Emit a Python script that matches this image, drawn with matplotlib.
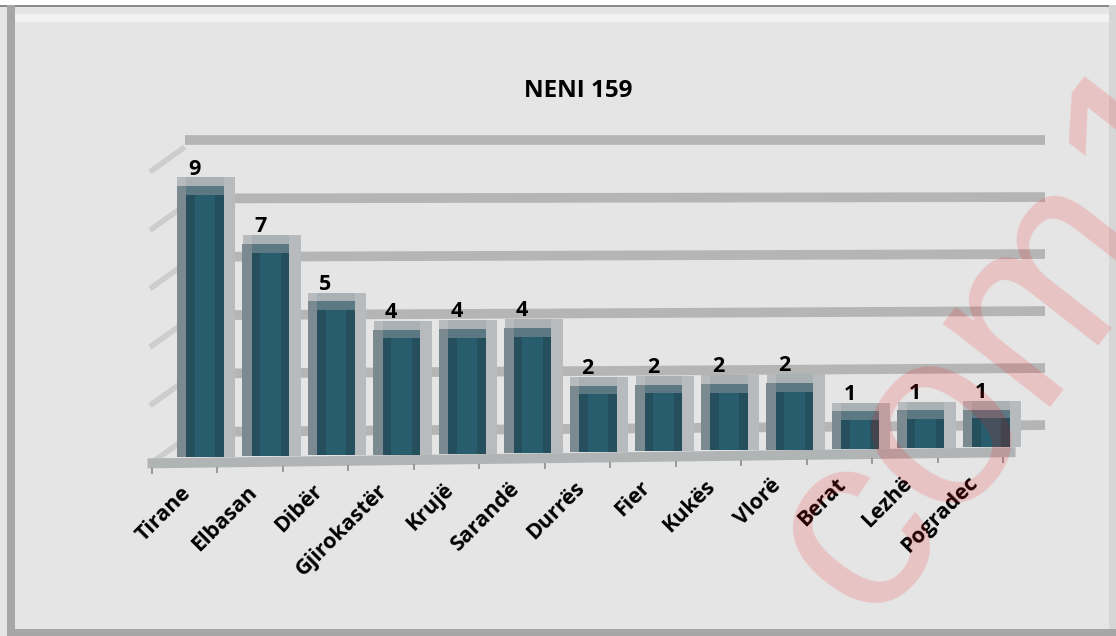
import numpy as np
import matplotlib
matplotlib.use("Agg")
import matplotlib.pyplot as plt
from matplotlib.patches import Rectangle

# ---- data ----
categories = ["Tirane", "Elbasan", "Dibër", "Gjirokastër", "Krujë", "Sarandë",
              "Durrës", "Fier", "Kukës", "Vlorë", "Berat", "Lezhë", "Pogradec"]
values = [9, 7, 5, 4, 4, 4, 2, 2, 2, 2, 1, 1, 1]
title = "NENI 159"
grid_levels = [0, 2, 4, 6, 8, 10]

W, H = 1116, 636
fig = plt.figure(figsize=(W / 100, H / 100), dpi=100)
fig.patch.set_facecolor("#e5e5e5")

# outer frame
def px_rect(x0, y0, x1, y1, color, z=0):
    fig.add_artist(Rectangle((x0 / W, 1 - y1 / H), (x1 - x0) / W, (y1 - y0) / H,
                             transform=fig.transFigure, facecolor=color,
                             edgecolor="none", zorder=z))

px_rect(0, 0, W, 5, "#ffffff")
px_rect(0, 5, W, 7, "#8c8c8c")
px_rect(15, 14, W - 7, 22, "#f2f2f2")
px_rect(7, 5, 15, 636, "#a6a6a6")
px_rect(7, 629, W, 636, "#a6a6a6")
px_rect(W - 7, 5, W, 629, "#d6d6d6")

# axes geometry in pixels
ax_l, ax_r = 147, 1050
ax_t, ax_b = 130, 480
px_per_x = 65.5
x0_px = 205
px_per_y = 29.2
y0_px = 449

ax = fig.add_axes([ax_l / W, 1 - ax_b / H, (ax_r - ax_l) / W, (ax_b - ax_t) / H])
ax.set_facecolor("none")
ax.set_xlim((ax_l - x0_px) / px_per_x, (ax_r - x0_px) / px_per_x)
ax.set_ylim(-(ax_b - y0_px) / px_per_y, (y0_px - ax_t) / px_per_y)
for s in ax.spines.values():
    s.set_visible(False)
ax.set_xticks([])
ax.set_yticks([])

x = np.arange(len(categories))
vals = np.array(values, dtype=float)
slant = 0.029          # perspective rise per category (data units)
lift = slant * x

# back-wall gridlines (shifted for 3-D perspective)
gx0 = (185 - x0_px) / px_per_x
gx1 = (1045 - x0_px) / px_per_x
off = 0.58
for v in grid_levels:
    rise = 0.24 * (1 - v / 10)
    ax.plot([gx0, gx1], [v + off, v + off + rise], color="#b5b5b5", lw=7,
            solid_capstyle="butt", zorder=1)
    ax.plot([-0.84, -0.31], [v - 0.51, v + 0.34], color="#cdcdcd", lw=4,
            solid_capstyle="butt", zorder=1)

# floor (slanted)
fx = np.array([(147 - x0_px) / px_per_x, (1015 - x0_px) / px_per_x])
ax.fill_between(fx, -0.62 + slant * fx, -0.28 + slant * fx,
                color="#b1b4b5", lw=0, zorder=2)
# floor tick marks
tick_x = np.arange(len(categories) + 1) - 0.81
ax.vlines(tick_x, -0.62 + slant * tick_x - 0.2, -0.62 + slant * tick_x,
          color="#8c8c8c", lw=1.2, zorder=2)

base = -0.28 + lift
depth = 0.3
# 3-D bar side / shadow
ax.bar(x + 0.02, vals + lift - base + depth, bottom=base, width=0.88,
       color="#b7bbbd", lw=0, zorder=3)
ax.bar(x - 0.36, vals + lift - base, bottom=base, width=0.15,
       color="#7b8a90", lw=0, zorder=4)
# top face
ax.bar(x, np.full_like(vals, depth), bottom=vals + lift, width=0.58,
       color="#a9b1b4", lw=0, zorder=4)
# front face
ax.bar(x, vals + lift - base, bottom=base, width=0.58,
       color="#254f5c", lw=0, zorder=5)
ax.bar(x, vals + lift - base, bottom=base, width=0.32,
       color="#285d6d", lw=0, zorder=6)
ax.bar(x, np.full_like(vals, 0.3), bottom=vals + lift - 0.3, width=0.58,
       color="#5b7883", lw=0, zorder=7)

# value labels
for xi, v, l in zip(x, values, lift):
    ax.annotate(str(v), (xi - 0.16, v + l + depth), textcoords="offset points",
                xytext=(0, -1.5), ha="center", va="bottom", fontsize=15.5,
                fontweight="bold", family="Open Sans", color="black", zorder=8)

# category labels
for xi, c, l in zip(x, categories, lift):
    ax.text(xi - 0.37, -1.15 + l, c, rotation=45, rotation_mode="anchor",
            ha="right", va="top", fontsize=15.5, fontweight="bold",
            family="Open Sans", color="black", clip_on=False, zorder=8)

fig.text(578 / W, 1 - 91 / H, title, ha="center", va="center",
         fontsize=17.5, fontweight="bold", family="Open Sans", color="black")

# watermark
fig.text(870 / W, 1 - 625 / H, "com1", rotation=52, rotation_mode="anchor",
         ha="left", va="baseline", fontsize=184, family="Liberation Sans",
         color=(1, 0, 0, 0.15), zorder=20)

fig.savefig("out.png", dpi=100, facecolor=fig.get_facecolor())
